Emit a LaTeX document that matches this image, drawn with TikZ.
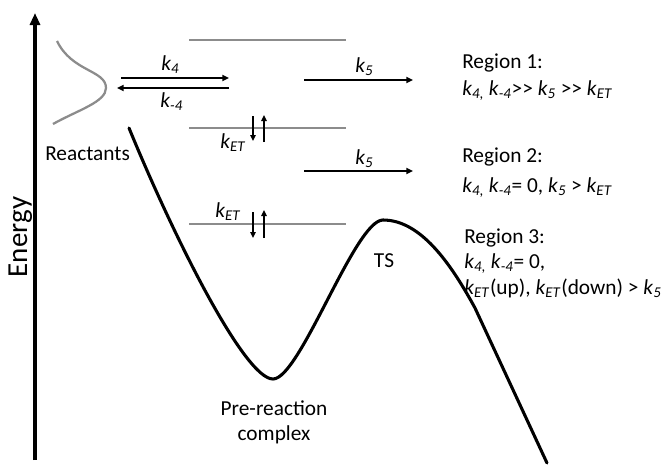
\documentclass[tikz,border=0pt]{standalone}
\usepackage{fontspec}
\setmainfont{Carlito}
\usepackage{xcolor}
\usepackage{tikz}
\usetikzlibrary{arrows.meta,positioning}
\definecolor{LevelGray}{HTML}{8C8C8C}
\newcommand{\kr}[1]{\textit{k}\textsubscript{\textit{#1}}}
\newcommand{\muchgt}{>\kern0pt>}

\tikzset{
  lbl/.style={font=\fontsize{16}{19}\selectfont, inner sep=0pt},
  level/.style={draw=LevelGray, line width=1.9pt},
  rate/.style={line width=1.5pt, -{Triangle[length=5pt,width=4.5pt]}},
  flip/.style={line width=1.5pt, -{Triangle[length=4.5pt,width=4pt]}},
  surface/.style={line width=2.3pt, line cap=round, line join=round}
}

\begin{document}
\begin{tikzpicture}[x=0.75pt,y=-0.75pt]
  \useasboundingbox (0,0) rectangle (667,465);

  % energy axis
  \coordinate (axbot) at (35,460);
  \coordinate (axtop) at (35,13);
  \draw[line width=2.3pt, -{Triangle[length=9pt,width=7.5pt]}] (axbot) -- (axtop);
  \node[font=\fontsize{21.75}{24}\selectfont, inner sep=0pt, rotate=90, anchor=base]
        (energy) at (27,237) {Energy};

  % reactant distribution
  \draw[LevelGray, line width=1.7pt]
        (57,41) .. controls (72,72) and (106,70) .. (106,88)
        .. controls (106,102) and (78,110) .. (53,124);
  \node[lbl, anchor=base west] (reac) at (45,160) {Reactants};

  % levels
  \draw[level] (189,40) -- (346,40);
  \draw[level] (189,128) -- (346,128);
  \draw[level] (189,224) -- (346,224);

  % k4 / k-4
  \coordinate (fwdA) at (121,78);  \coordinate (fwdB) at (229,78);
  \coordinate (bwdA) at (229,88);  \coordinate (bwdB) at (117,88);
  \draw[rate] (fwdA) -- (fwdB);
  \draw[rate] (bwdA) -- (bwdB);
  \node[lbl, anchor=base west] (kfour) at (161,70) {\kr{4}};
  \node[lbl, anchor=base west] (kmfour) at (160,107) {\kr{-4}};

  % k5
  \coordinate (kfiveA) at (304,80);  \coordinate (kfiveB) at (413,80);
  \coordinate (kfiveC) at (304,171); \coordinate (kfiveD) at (413,171);
  \draw[rate] (kfiveA) -- (kfiveB);
  \draw[rate] (kfiveC) -- (kfiveD);
  \node[lbl, anchor=base west] (kfive) at (355,72) {\kr{5}};
  \node[lbl, anchor=base west] (kfivetwo) at (355,164) {\kr{5}};

  % kET
  \coordinate (etdA) at (253,116); \coordinate (etdB) at (253,141);
  \coordinate (etuA) at (264,142); \coordinate (etuB) at (264,115);
  \draw[flip] (etdA) -- (etdB);
  \draw[flip] (etuA) -- (etuB);
  \node[lbl, anchor=base west] (ket) at (220,148) {\kr{ET}};
  \coordinate (etdC) at (253,212); \coordinate (etdD) at (253,238);
  \coordinate (etuC) at (264,238); \coordinate (etuD) at (264,210);
  \draw[flip] (etdC) -- (etdD);
  \draw[flip] (etuC) -- (etuD);
  \node[lbl, anchor=base west] (kettwo) at (215,217) {\kr{ET}};

  % potential energy surface
  \draw[surface] (129,128) .. controls (175,240) and (245,379) .. (273,379)
        .. controls (300,379) and (355,220) .. (383,220)
        .. controls (420,220) and (450,262) .. (475,308) -- (547,463);
  \node[lbl, anchor=base] (ts) at (384,267) {TS};
  \node[lbl, anchor=base] (pre) at (274,415) {Pre-reaction};
  \node[lbl, anchor=base] (cplx) at (274,440) {complex};

  % regions
  \node[lbl, anchor=base west] (regone) at (462,68) {Region 1:};
  \node[lbl, anchor=base west] (regonek) at (462,95) {\kr{4,} \kr{-4}\muchgt{} \kr{5} \muchgt{} \kr{ET}};
  \node[lbl, anchor=base west] (regtwo) at (462,162) {Region 2:};
  \node[lbl, anchor=base west] (regtwok) at (462,192) {\kr{4,} \kr{-4}= 0, \kr{5} > \kr{ET}};
  \node[lbl, anchor=base west] (regthree) at (464,243) {Region 3:};
  \node[lbl, anchor=base west] (regthreek) at (464,268) {\kr{4,} \kr{-4}= 0,};
  \node[lbl, anchor=base west] (regthreel) at (464,294) {\kr{ET}(up), \kr{ET}(down) > \kr{5}};
\end{tikzpicture}
\end{document}
